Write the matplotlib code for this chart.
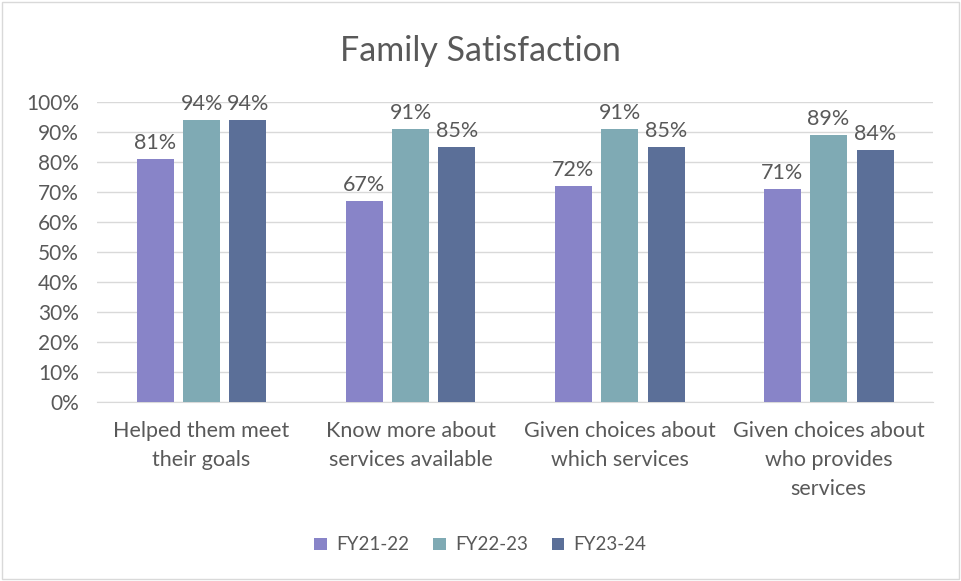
import numpy as np
import matplotlib
matplotlib.use("Agg")
import matplotlib.pyplot as plt
from matplotlib.patches import Rectangle
from matplotlib.ticker import PercentFormatter

categories = ["Helped them meet\ntheir goals", "Know more about\nservices available",
              "Given choices about\nwhich services", "Given choices about\nwho provides\nservices"]
series_names = ["FY21-22", "FY22-23", "FY23-24"]
fy21_22 = [81, 67, 72, 71]
fy22_23 = [94, 91, 91, 89]
fy23_24 = [94, 85, 85, 84]
colors = ["#8884C8", "#7FAAB4", "#5B6F98"]

plt.rcParams["font.family"] = ["Lato", "DejaVu Sans"]
text_color = "#595959"

fig = plt.figure(figsize=(9.61, 5.81), dpi=100)
ax = fig.add_axes([0.101, 0.308, 0.870, 0.516])

x = np.arange(len(categories))
width = 0.177
step = 0.222
for i, (vals, name) in enumerate(zip([fy21_22, fy22_23, fy23_24], series_names)):
    bars = ax.bar(x + (i - 1) * step, vals, width, color=colors[i], label=name, zorder=3)
    for b, v in zip(bars, vals):
        ax.text(b.get_x() + b.get_width() / 2, v + 2.0, f"{v}%", ha="center", va="bottom",
                fontsize=15.5, color=text_color)

ax.set_xlim(-0.5, len(categories) - 0.5)
ax.set_ylim(0, 100)
ax.set_yticks(range(0, 101, 10))
ax.yaxis.set_major_formatter(PercentFormatter(decimals=0))
ax.set_xticks(x)
ax.set_xticklabels(categories, fontsize=15.5, color=text_color, linespacing=1.55)
ax.tick_params(axis="y", labelsize=15, colors=text_color, length=0, pad=13)
ax.tick_params(axis="x", length=0, pad=14)
ax.grid(axis="y", color="#D9D9D9", linewidth=1, zorder=0)
for s in ["top", "right", "left"]:
    ax.spines[s].set_visible(False)
ax.spines["bottom"].set_color("#D9D9D9")

fig.suptitle("Family Satisfaction", x=0.5, y=0.94, fontsize=24.5, color=text_color)

fig.legend(loc="center", bbox_to_anchor=(0.5, 0.062), ncol=3, frameon=False, fontsize=13.5,
           labelcolor=text_color, handlelength=0.65, handleheight=0.65, columnspacing=1.3,
           handletextpad=0.5)

fig.patches.append(Rectangle((0.002, 0.003), 0.996, 0.994, transform=fig.transFigure,
                             fill=False, edgecolor="#D9D9D9", linewidth=1))

fig.savefig("out.png", dpi=100)
